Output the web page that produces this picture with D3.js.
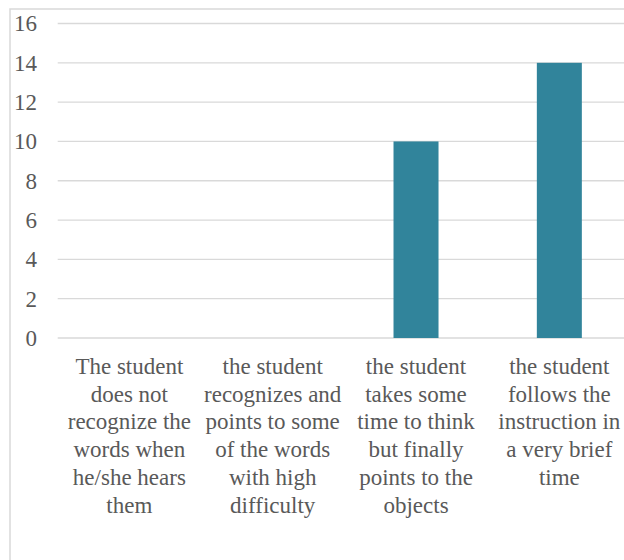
<!DOCTYPE html>
<html>
<head>
<meta charset="utf-8">
<script src="https://cdn.jsdelivr.net/npm/d3@7"></script>
<style>
  html, body { margin: 0; padding: 0; background: #fff; overflow: hidden; }
  svg { display: block; }
</style>
</head>
<body>
<script>
// ---- data ----
const categories = [
  "The student does not recognize the words when he/she hears them",
  "the student recognizes and points to some of the words with high difficulty",
  "the student takes some time to think but finally points to the objects",
  "the student follows the instruction in a very brief time"
];
const categoryLines = [
  ["The student", "does not", "recognize the", "words when", "he/she hears", "them"],
  ["the student", "recognizes and", "points to some", "of the words", "with high", "difficulty"],
  ["the student", "takes some", "time to think", "but finally", "points to the", "objects"],
  ["the student", "follows the", "instruction in", "a very brief", "time"]
];
const values = [0, 0, 10, 14];
const yTicks = [0, 2, 4, 6, 8, 10, 12, 14, 16];

// ---- layout ----
const W = 624, H = 560;
const FONT = "'Liberation Serif', serif";
const svg = d3.select("body").append("svg")
  .attr("width", W).attr("height", H);

// chart border (cropped at right/bottom in the reference)
svg.append("rect")
  .attr("x", 10).attr("y", 9)
  .attr("width", 800).attr("height", 800)
  .attr("fill", "none").attr("stroke", "#d9d9d9").attr("stroke-width", 1.5);

const plotLeft = 57.7, plotRight = 631;
const x = d3.scaleBand()
  .domain(categories)
  .range([plotLeft, plotRight])
  .paddingInner(0.686)
  .paddingOuter(0.343);
const y = d3.scaleLinear().domain([0, 16]).range([338, 23.5]);

// gridlines
svg.append("g").selectAll("line").data(yTicks).join("line")
  .attr("x1", plotLeft).attr("x2", W + 10)
  .attr("y1", d => y(d)).attr("y2", d => y(d))
  .attr("stroke", "#d9d9d9").attr("stroke-width", 1.3);

// y tick labels
svg.append("g").selectAll("text").data(yTicks).join("text")
  .attr("x", 37).attr("y", d => y(d))
  .attr("dy", "0.34em")
  .attr("text-anchor", "end")
  .style("font-family", FONT)
  .style("font-size", "23px")
  .style("fill", "#595959")
  .text(d => d);

// bars
svg.append("g").selectAll("rect").data(values).join("rect")
  .attr("x", (d, i) => x(categories[i]))
  .attr("width", x.bandwidth())
  .attr("y", d => y(d))
  .attr("height", d => y(0) - y(d))
  .attr("fill", "#31849b");

// category labels
const lab = svg.append("g").selectAll("text").data(categories).join("text")
  .attr("text-anchor", "middle")
  .style("font-family", FONT)
  .style("font-size", "23px")
  .style("fill", "#595959")
  .attr("transform", d => `translate(${x(d) + x.bandwidth() / 2},374)`);
lab.each(function(d, i) {
  d3.select(this).selectAll("tspan").data(categoryLines[i]).join("tspan")
    .attr("x", 0)
    .attr("y", (t, j) => j * 27.7)
    .text(t => t);
});
</script>
</body>
</html>
